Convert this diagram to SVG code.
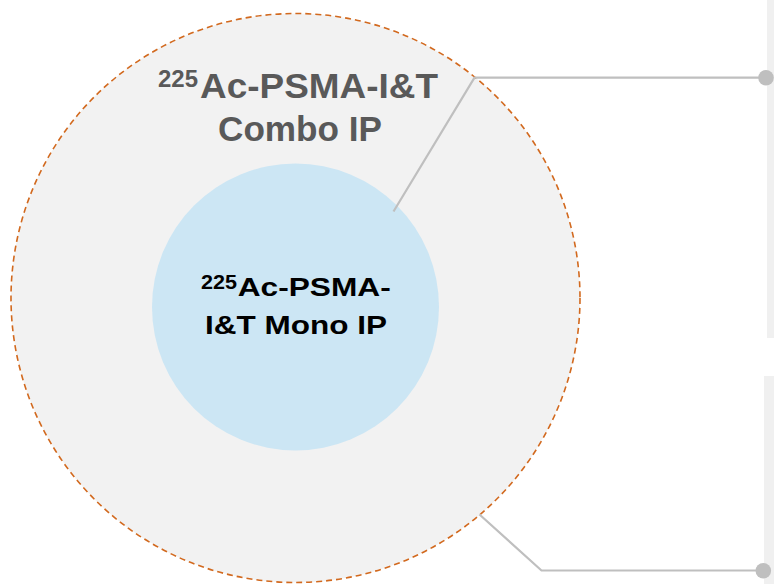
<svg xmlns="http://www.w3.org/2000/svg" width="774" height="584" viewBox="0 0 774 584">
  <style>
    .lbl { font-family: "Liberation Sans", Arial, sans-serif; font-weight: bold; }
    .outer-lbl { fill: #595959; }
    .inner-lbl { fill: #000000; }
    .conn { fill: none; stroke: #bfbfbf; stroke-width: 2.2; }
    .dot { fill: #bfbfbf; }
    .panel { fill: #f0f0f0; }
  </style>
  <rect width="774" height="584" fill="#ffffff"/>

  <!-- side panels -->
  <rect class="panel" x="767" y="0" width="7" height="338"/>
  <rect class="panel" x="764" y="376" width="10" height="208"/>

  <g id="combo-ip">
    <circle cx="295.5" cy="298" r="284.5" fill="#f2f2f2" stroke="#d2691e" stroke-width="1.6" stroke-dasharray="6 4"/>
    <text class="lbl outer-lbl" x="158" y="87.3" font-size="24" textLength="40" lengthAdjust="spacingAndGlyphs">225</text>
    <text class="lbl outer-lbl" x="200" y="98.3" font-size="35" textLength="238" lengthAdjust="spacingAndGlyphs">Ac-PSMA-I&amp;T</text>
    <text class="lbl outer-lbl" x="218" y="141" font-size="35" textLength="164" lengthAdjust="spacingAndGlyphs">Combo IP</text>
  </g>

  <g id="mono-ip">
    <circle cx="295.5" cy="307" r="143.5" fill="#cce6f4"/>
    <text class="lbl inner-lbl" x="201" y="288.7" font-size="19.5" textLength="36" lengthAdjust="spacingAndGlyphs">225</text>
    <text class="lbl inner-lbl" x="237.7" y="295.5" font-size="26.5" textLength="153" lengthAdjust="spacingAndGlyphs">Ac-PSMA-</text>
    <text class="lbl inner-lbl" x="205" y="334" font-size="26.5" textLength="182" lengthAdjust="spacingAndGlyphs">I&amp;T Mono IP</text>
  </g>

  <g id="connectors">
    <polyline class="conn" points="393.5,211.5 474.5,77.7 766,77.7"/>
    <circle class="dot" cx="766" cy="77.7" r="7.8"/>
    <polyline class="conn" points="479.5,514.5 541.5,570.5 763,570.5"/>
    <circle class="dot" cx="763.3" cy="570.7" r="7.8"/>
  </g>
</svg>
